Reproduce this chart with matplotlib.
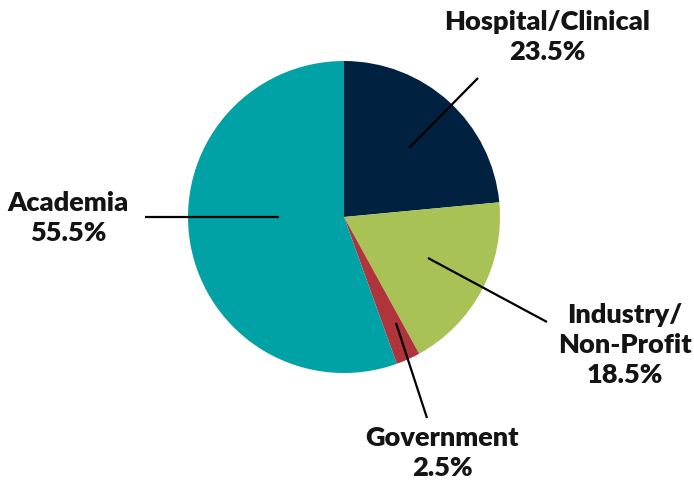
import numpy as np
import matplotlib.pyplot as plt

labels = ["Hospital/Clinical", "Industry/\nNon-Profit", "Government", "Academia"]
shares = [23.5, 18.5, 2.5, 55.5]
colors = ["#00213f", "#a8c256", "#b0343c", "#00a2a6"]

W, H = 694, 482
fig = plt.figure(figsize=(W / 100, H / 100), dpi=100)
ax = fig.add_axes([0, 0, 1, 1])

cx, cy, r = 344, H - 217, 156
ax.pie(shares, colors=colors, startangle=90, counterclock=False,
       center=(cx, cy), radius=r, frame=True)
ax.set_xlim(0, W)
ax.set_ylim(0, H)
ax.set_aspect("equal")
ax.axis("off")

# (line start, line end, text centre) in pixel coords from top-left
callouts = [
    ((409, 148), (478, 78), (547, 37)),
    ((428, 258), (547, 322), (625, 345)),
    ((396, 323), (427, 418), (442, 453)),
    ((279, 217), (145, 217), (68, 218)),
]

for lab, val, (p0, p1, pt) in zip(labels, shares, callouts):
    ax.plot([p0[0], p1[0]], [H - p0[1], H - p1[1]], color="black", lw=1.6,
            solid_capstyle="butt")
    ax.text(pt[0], H - pt[1], f"{lab}\n{val}%", ha="center", va="center",
            fontsize=19.5, fontfamily="Lato", fontweight="heavy",
            linespacing=1.28, color="#141414")

fig.savefig("out.png", dpi=100)
